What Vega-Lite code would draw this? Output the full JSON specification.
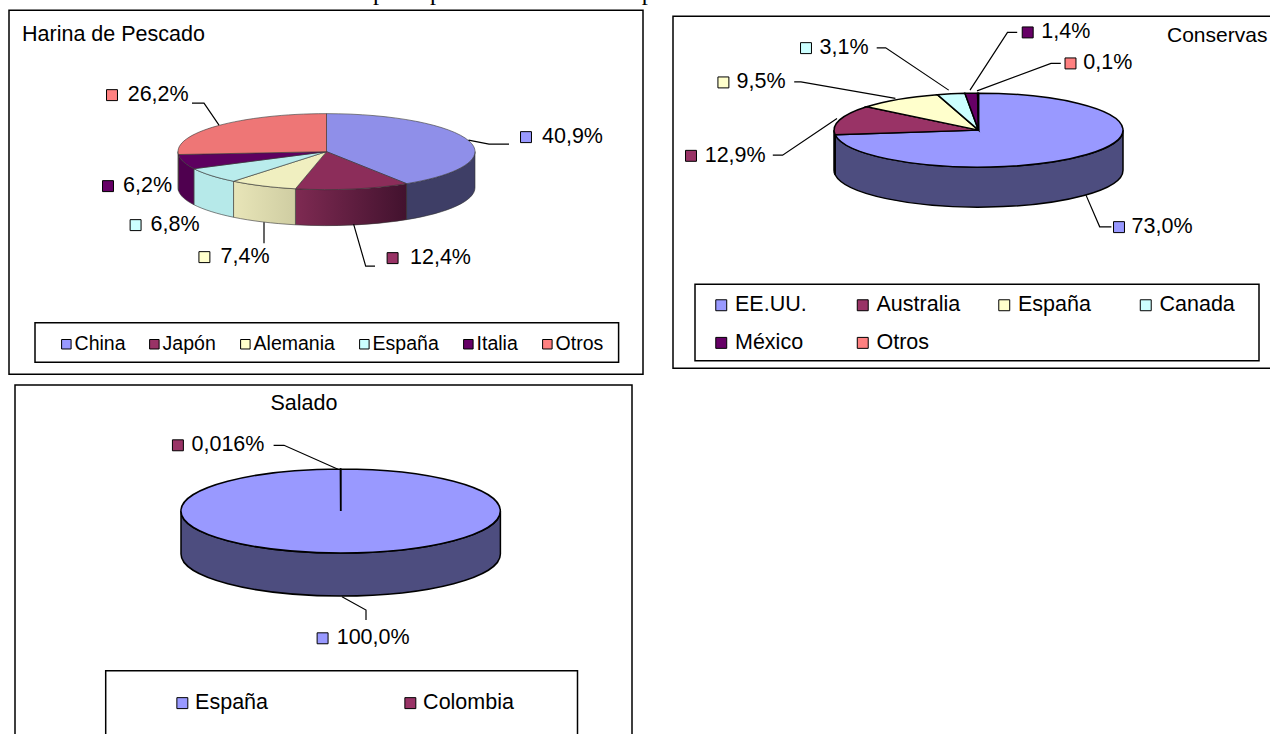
{"$schema":"https://vega.github.io/schema/vega-lite/v6.json","background":"white","padding":{"left":8,"top":-21,"right":0,"bottom":0},"config":{"axis":{"disable":true},"font":"Liberation Sans"},"title":{"text":"Gráfico Nº 4: Los tres principales mercados de importación de Venezuela en 1996","font":"Liberation Serif","fontSize":24.5,"fontWeight":"normal","color":"black","anchor":"start","frame":"group","dx":142,"offset":-20,"baseline":"bottom"},"spacing":9,"resolve":{"scale":{"color":"independent","fill":"independent"},"legend":{"color":"independent"}},"vconcat":[{"spacing":28,"center":true,"resolve":{"scale":{"color":"independent","fill":"independent"},"legend":{"color":"independent"}},"hconcat":[
{"width":634,"height":364,"view":{"stroke":"black","strokeWidth":1.5},"data":{"values":[{"cat":"China","value":40.9,"label":"40,9%"},{"cat":"Japón","value":12.4,"label":"12,4%"},{"cat":"Alemania","value":7.4,"label":"7,4%"},{"cat":"España","value":6.8,"label":"6,8%"},{"cat":"Italia","value":6.2,"label":"6,2%"},{"cat":"Otros","value":26.2,"label":"26,2%"}]},
"transform":[{"stack":"value","groupby":[],"as":["v0","v1"]},{"joinaggregate":[{"op":"sum","field":"value","as":"total"}]},{"calculate":"2*PI*datum.v0/datum.total","as":"a0"},{"calculate":"2*PI*datum.v1/datum.total","as":"a1"},{"calculate":"clamp(datum.a0,PI/2,3*PI/2)","as":"b0"},{"calculate":"clamp(datum.a1,PI/2,3*PI/2)","as":"b1"},
{"calculate":"'M317.5,141.5L'+format(317.5+148.5*sin(datum.a0),'.2f')+','+format(141.5-38*cos(datum.a0),'.2f')+'A148.5,38 0 '+(datum.a1-datum.a0>PI?1:0)+' 1 '+format(317.5+148.5*sin(datum.a1),'.2f')+','+format(141.5-38*cos(datum.a1),'.2f')+'Z'","as":"topPath"},
{"calculate":"'M'+format(317.5+148.5*sin(datum.b0),'.2f')+','+format(141.5-38*cos(datum.b0),'.2f')+'A148.5,38 0 0 1 '+format(317.5+148.5*sin(datum.b1),'.2f')+','+format(141.5-38*cos(datum.b1),'.2f')+'L'+format(317.5+148.5*sin(datum.b1),'.2f')+','+format(177.5-38*cos(datum.b1),'.2f')+'A148.5,38 0 0 0 '+format(317.5+148.5*sin(datum.b0),'.2f')+','+format(177.5-38*cos(datum.b0),'.2f')+'Z'","as":"rimPath"},
{"calculate":"datum.cat+' rim'","as":"rimKey"},
{"calculate":"{'China':517,'Japón':383.6,'Alemania':195.4,'España':126.6,'Italia':99,'Otros':103}[datum.cat]","as":"kx"},
{"calculate":"{'China':533,'Japón':401,'Alemania':211.5,'España':141.5,'Italia':114,'Otros':118.7}[datum.cat]","as":"tx"},
{"calculate":"{'China':127,'Japón':248,'Alemania':247,'España':215,'Italia':176,'Otros':85}[datum.cat]","as":"ly"},
{"calculate":"{'China':'M459.5,130L480,134L500,134','Japón':'M344.6,214L356.7,256L366,256','Alemania':'M255,212L255,233','España':'','Italia':'','Otros':'M210,115L195,93L183,93'}[datum.cat]","as":"leader"}],
"layer":[
{"transform":[{"filter":"datum.b1>datum.b0 && datum.cat!='Japón' && datum.cat!='Alemania'"}],"mark":{"type":"point","filled":true,"opacity":1,"stroke":"#333333","strokeWidth":0.6},"encoding":{"x":{"datum":0,"type":"quantitative","scale":{"domain":[0,634],"nice":false,"zero":false}},"y":{"datum":0,"type":"quantitative","scale":{"domain":[364,0],"nice":false,"zero":false}},"size":{"value":4},"shape":{"field":"rimPath","type":"nominal","scale":null},"fill":{"field":"rimKey","type":"nominal","legend":null,"scale":{"domain":["China rim","España rim","Italia rim","Otros rim","China","Japón","Alemania","España","Italia","Otros"],"range":["#3e3e66","#b6e9e9","#4f004f","#c46060","#8f8fe9","#8c2d5a","#f0efc0","#b9ecec","#5e0060","#ee7676"]}}}},
{"transform":[{"filter":"datum.cat=='Japón'"}],"mark":{"type":"point","filled":true,"opacity":1,"stroke":"#333333","strokeWidth":0.6,"fill":{"gradient":"linear","x1":0,"y1":0,"x2":1,"y2":0,"stops":[{"offset":0,"color":"#7e2a52"},{"offset":1,"color":"#42122e"}]}},"encoding":{"x":{"datum":0,"type":"quantitative","scale":{"domain":[0,634],"nice":false,"zero":false}},"y":{"datum":0,"type":"quantitative","scale":{"domain":[364,0],"nice":false,"zero":false}},"size":{"value":4},"shape":{"field":"rimPath","type":"nominal","scale":null}}},
{"transform":[{"filter":"datum.cat=='Alemania'"}],"mark":{"type":"point","filled":true,"opacity":1,"stroke":"#333333","strokeWidth":0.6,"fill":{"gradient":"linear","x1":0,"y1":0,"x2":1,"y2":0,"stops":[{"offset":0,"color":"#e8e5b8"},{"offset":1,"color":"#cfcda2"}]}},"encoding":{"x":{"datum":0,"type":"quantitative","scale":{"domain":[0,634],"nice":false,"zero":false}},"y":{"datum":0,"type":"quantitative","scale":{"domain":[364,0],"nice":false,"zero":false}},"size":{"value":4},"shape":{"field":"rimPath","type":"nominal","scale":null}}},
{"mark":{"type":"point","filled":true,"opacity":1,"stroke":"#333333","strokeWidth":0.6},"encoding":{"x":{"datum":0,"type":"quantitative","scale":{"domain":[0,634],"nice":false,"zero":false}},"y":{"datum":0,"type":"quantitative","scale":{"domain":[364,0],"nice":false,"zero":false}},"size":{"value":4},"shape":{"field":"topPath","type":"nominal","scale":null},"fill":{"field":"cat","type":"nominal","legend":null}}},
{"transform":[{"filter":"datum.leader!=''"}],"mark":{"type":"point","filled":false,"opacity":1,"stroke":"black","strokeWidth":1.2},"encoding":{"x":{"datum":0,"type":"quantitative","scale":{"domain":[0,634],"nice":false,"zero":false}},"y":{"datum":0,"type":"quantitative","scale":{"domain":[364,0],"nice":false,"zero":false}},"size":{"value":4},"shape":{"field":"leader","type":"nominal","scale":null}}},
{"mark":{"type":"square","opacity":1,"size":120,"stroke":"black","strokeWidth":1},"encoding":{"x":{"field":"kx","type":"quantitative","scale":{"domain":[0,634],"nice":false,"zero":false}},"y":{"field":"ly","type":"quantitative","scale":{"domain":[364,0],"nice":false,"zero":false}},"color":{"field":"cat","type":"nominal","scale":{"domain":["China","Japón","Alemania","España","Italia","Otros"],"range":["#9999ff","#993366","#ffffcc","#ccffff","#660066","#ff8080"]},"legend":{"orient":"none","legendX":47.6,"legendY":324,"title":null,"direction":"horizontal","columns":6,"symbolType":"square","symbolSize":90,"symbolStrokeColor":"black","symbolStrokeWidth":1,"symbolOpacity":1,"labelFont":"Liberation Sans","labelFontSize":19.5,"labelColor":"black","labelOffset":-1.5,"columnPadding":19,"gridAlign":"each","padding":0,"labelLimit":300}}}},
{"mark":{"type":"text","align":"left","baseline":"middle","font":"Liberation Sans","fontSize":21.5,"color":"black"},"encoding":{"x":{"field":"tx","type":"quantitative","scale":{"domain":[0,634],"nice":false,"zero":false}},"y":{"field":"ly","type":"quantitative","scale":{"domain":[364,0],"nice":false,"zero":false}},"text":{"field":"label"}}},
{"data":{"values":[{"t":"Harina de Pescado"}]},"mark":{"type":"text","align":"left","baseline":"middle","font":"Liberation Sans","fontSize":21.5,"color":"black"},"encoding":{"x":{"datum":13,"type":"quantitative","scale":{"domain":[0,634],"nice":false,"zero":false}},"y":{"datum":25,"type":"quantitative","scale":{"domain":[364,0],"nice":false,"zero":false}},"text":{"field":"t"}}},
{"data":{"values":[{"t":"legend"}]},"mark":{"type":"rect","fillOpacity":0,"stroke":"black","strokeWidth":1.5},"encoding":{"x":{"datum":26,"type":"quantitative","scale":{"domain":[0,634],"nice":false,"zero":false}},"x2":{"datum":609.6},"y":{"datum":312.7,"type":"quantitative","scale":{"domain":[364,0],"nice":false,"zero":false}},"y2":{"datum":352}}}
]},
{"width":599,"height":352,"view":{"stroke":"black","strokeWidth":1.5},"data":{"values":[{"cat":"EE.UU.","value":73.0,"label":"73,0%"},{"cat":"Australia","value":12.9,"label":"12,9%"},{"cat":"España","value":9.5,"label":"9,5%"},{"cat":"Canada","value":3.1,"label":"3,1%"},{"cat":"México","value":1.4,"label":"1,4%"},{"cat":"Otros","value":0.1,"label":"0,1%"}]},
"transform":[{"stack":"value","groupby":[],"as":["v0","v1"]},{"joinaggregate":[{"op":"sum","field":"value","as":"total"}]},{"calculate":"2*PI*datum.v0/datum.total","as":"a0"},{"calculate":"2*PI*datum.v1/datum.total","as":"a1"},{"calculate":"clamp(datum.a0,PI/2,3*PI/2)","as":"b0"},{"calculate":"clamp(datum.a1,PI/2,3*PI/2)","as":"b1"},
{"calculate":"'M305.5,114L'+format(305.5+144.5*sin(datum.a0),'.2f')+','+format(114-37*cos(datum.a0),'.2f')+'A144.5,37 0 '+(datum.a1-datum.a0>PI?1:0)+' 1 '+format(305.5+144.5*sin(datum.a1),'.2f')+','+format(114-37*cos(datum.a1),'.2f')+'Z'","as":"topPath"},
{"calculate":"'M'+format(305.5+144.5*sin(datum.b0),'.2f')+','+format(114-37*cos(datum.b0),'.2f')+'A144.5,37 0 0 1 '+format(305.5+144.5*sin(datum.b1),'.2f')+','+format(114-37*cos(datum.b1),'.2f')+'L'+format(305.5+144.5*sin(datum.b1),'.2f')+','+format(154-37*cos(datum.b1),'.2f')+'A144.5,37 0 0 0 '+format(305.5+144.5*sin(datum.b0),'.2f')+','+format(154-37*cos(datum.b0),'.2f')+'Z'","as":"rimPath"},
{"calculate":"datum.cat+' rim'","as":"rimKey"},
{"calculate":"{'EE.UU.':446,'Australia':18,'España':50.4,'Canada':133,'México':354.7,'Otros':397.5}[datum.cat]","as":"kx"},
{"calculate":"{'EE.UU.':458.6,'Australia':31.7,'España':63.6,'Canada':146.5,'México':368.3,'Otros':410.3}[datum.cat]","as":"tx"},
{"calculate":"{'EE.UU.':211,'Australia':139.7,'España':66.3,'Canada':32,'México':16.3,'Otros':47.3}[datum.cat]","as":"ly"},
{"calculate":"{'EE.UU.':'M413,179L426.7,210.7L438.4,210.7','Australia':'M164,102.3L109.6,139L99.8,139','España':'M222.4,82.3L127.9,65.7L121.2,65.7','Canada':'M275.7,74L212.7,31.7L203.7,31.7','México':'M297,74L334.5,16.3L344.2,16.3','Otros':'M304,74.7L378,47.3L387.8,47.3'}[datum.cat]","as":"leader"}],
"layer":[
{"transform":[{"filter":"datum.b1>datum.b0"}],"mark":{"type":"point","filled":true,"opacity":1,"stroke":"black","strokeWidth":1.5},"encoding":{"x":{"datum":0,"type":"quantitative","scale":{"domain":[0,599],"nice":false,"zero":false}},"y":{"datum":0,"type":"quantitative","scale":{"domain":[352,0],"nice":false,"zero":false}},"size":{"value":4},"shape":{"field":"rimPath","type":"nominal","scale":null},"fill":{"field":"rimKey","type":"nominal","legend":null,"scale":{"domain":["EE.UU. rim","Australia rim","España rim","Canada rim","México rim","Otros rim","EE.UU.","Australia","España","Canada","México","Otros"],"range":["#4d4d7f","#4d1a33","#808066","#668080","#330033","#804040","#9999ff","#993366","#ffffcc","#ccffff","#660066","#ff8080"]}}}},
{"mark":{"type":"point","filled":true,"opacity":1,"stroke":"black","strokeWidth":1.5},"encoding":{"x":{"datum":0,"type":"quantitative","scale":{"domain":[0,599],"nice":false,"zero":false}},"y":{"datum":0,"type":"quantitative","scale":{"domain":[352,0],"nice":false,"zero":false}},"size":{"value":4},"shape":{"field":"topPath","type":"nominal","scale":null},"fill":{"field":"cat","type":"nominal","legend":null}}},
{"mark":{"type":"point","filled":false,"opacity":1,"stroke":"black","strokeWidth":1.2},"encoding":{"x":{"datum":0,"type":"quantitative","scale":{"domain":[0,599],"nice":false,"zero":false}},"y":{"datum":0,"type":"quantitative","scale":{"domain":[352,0],"nice":false,"zero":false}},"size":{"value":4},"shape":{"field":"leader","type":"nominal","scale":null}}},
{"mark":{"type":"square","opacity":1,"size":120,"stroke":"black","strokeWidth":1},"encoding":{"x":{"field":"kx","type":"quantitative","scale":{"domain":[0,599],"nice":false,"zero":false}},"y":{"field":"ly","type":"quantitative","scale":{"domain":[352,0],"nice":false,"zero":false}},"color":{"field":"cat","type":"nominal","scale":{"domain":["EE.UU.","Australia","España","Canada","México","Otros"],"range":["#9999ff","#993366","#ffffcc","#ccffff","#660066","#ff8080"]},"legend":{"orient":"none","legendX":37.5,"legendY":278,"title":null,"direction":"horizontal","columns":4,"symbolType":"square","symbolSize":120,"symbolStrokeColor":"black","symbolStrokeWidth":1,"symbolOpacity":1,"labelFont":"Liberation Sans","labelFontSize":21.5,"labelColor":"black","labelOffset":3,"columnPadding":32.5,"rowPadding":15,"gridAlign":"all","padding":0,"labelLimit":300}}}},
{"mark":{"type":"text","align":"left","baseline":"middle","font":"Liberation Sans","fontSize":21.5,"color":"black"},"encoding":{"x":{"field":"tx","type":"quantitative","scale":{"domain":[0,599],"nice":false,"zero":false}},"y":{"field":"ly","type":"quantitative","scale":{"domain":[352,0],"nice":false,"zero":false}},"text":{"field":"label"}}},
{"data":{"values":[{"t":"Conservas"}]},"mark":{"type":"text","align":"left","baseline":"middle","font":"Liberation Sans","fontSize":21,"color":"black"},"encoding":{"x":{"datum":494,"type":"quantitative","scale":{"domain":[0,599],"nice":false,"zero":false}},"y":{"datum":20,"type":"quantitative","scale":{"domain":[352,0],"nice":false,"zero":false}},"text":{"field":"t"}}},
{"data":{"values":[{"t":"legend"}]},"mark":{"type":"rect","fillOpacity":0,"stroke":"black","strokeWidth":1.5},"encoding":{"x":{"datum":22,"type":"quantitative","scale":{"domain":[0,599],"nice":false,"zero":false}},"x2":{"datum":586},"y":{"datum":268,"type":"quantitative","scale":{"domain":[352,0],"nice":false,"zero":false}},"y2":{"datum":344.7}}}
]}
]},
{"spacing":0,"resolve":{"scale":{"color":"independent","fill":"independent"},"legend":{"color":"independent"}},"hconcat":[
{"width":5,"height":1,"view":{"stroke":null},"data":{"values":[{"t":"gap"}]},"mark":{"type":"rule","opacity":0},"encoding":{}},
{"width":617,"height":351,"view":{"stroke":"black","strokeWidth":1.5},"data":{"values":[{"cat":"España","value":99.984,"label":"100,0%"},{"cat":"Colombia","value":0.016,"label":"0,016%"}]},
"transform":[{"stack":"value","groupby":[],"as":["v0","v1"]},{"joinaggregate":[{"op":"sum","field":"value","as":"total"}]},{"calculate":"2*PI*datum.v0/datum.total","as":"a0"},{"calculate":"2*PI*datum.v1/datum.total","as":"a1"},{"calculate":"clamp(datum.a0,PI/2,3*PI/2)","as":"b0"},{"calculate":"clamp(datum.a1,PI/2,3*PI/2)","as":"b1"},
{"calculate":"'M325.7,126L'+format(325.7+159.7*sin(datum.a0),'.2f')+','+format(126-42*cos(datum.a0),'.2f')+'A159.7,42 0 '+(datum.a1-datum.a0>PI?1:0)+' 1 '+format(325.7+159.7*sin(datum.a1),'.2f')+','+format(126-42*cos(datum.a1),'.2f')+'Z'","as":"topPath"},
{"calculate":"'M'+format(325.7+159.7*sin(datum.b0),'.2f')+','+format(126-42*cos(datum.b0),'.2f')+'A159.7,42 0 0 1 '+format(325.7+159.7*sin(datum.b1),'.2f')+','+format(126-42*cos(datum.b1),'.2f')+'L'+format(325.7+159.7*sin(datum.b1),'.2f')+','+format(169-42*cos(datum.b1),'.2f')+'A159.7,42 0 0 0 '+format(325.7+159.7*sin(datum.b0),'.2f')+','+format(169-42*cos(datum.b0),'.2f')+'Z'","as":"rimPath"},
{"calculate":"datum.cat+' rim'","as":"rimKey"},
{"calculate":"{'España':307.6,'Colombia':162.9}[datum.cat]","as":"kx"},
{"calculate":"{'España':321.7,'Colombia':176.5}[datum.cat]","as":"tx"},
{"calculate":"{'España':253.3,'Colombia':60.3}[datum.cat]","as":"ly"},
{"calculate":"{'España':'M327,211.7L351,225L351,235','Colombia':'M323,84.3L269,60.3L258.6,60.3'}[datum.cat]","as":"leader"}],
"layer":[
{"transform":[{"filter":"datum.b1>datum.b0"}],"mark":{"type":"point","filled":true,"opacity":1,"stroke":"black","strokeWidth":1.5},"encoding":{"x":{"datum":0,"type":"quantitative","scale":{"domain":[0,617],"nice":false,"zero":false}},"y":{"datum":0,"type":"quantitative","scale":{"domain":[351,0],"nice":false,"zero":false}},"size":{"value":4},"shape":{"field":"rimPath","type":"nominal","scale":null},"fill":{"field":"rimKey","type":"nominal","legend":null,"scale":{"domain":["España rim","Colombia rim","España","Colombia"],"range":["#4d4d7f","#4d1a33","#9999ff","#993366"]}}}},
{"mark":{"type":"point","filled":true,"opacity":1,"stroke":"black","strokeWidth":1.5},"encoding":{"x":{"datum":0,"type":"quantitative","scale":{"domain":[0,617],"nice":false,"zero":false}},"y":{"datum":0,"type":"quantitative","scale":{"domain":[351,0],"nice":false,"zero":false}},"size":{"value":4},"shape":{"field":"topPath","type":"nominal","scale":null},"fill":{"field":"cat","type":"nominal","legend":null}}},
{"mark":{"type":"point","filled":false,"opacity":1,"stroke":"black","strokeWidth":1.2},"encoding":{"x":{"datum":0,"type":"quantitative","scale":{"domain":[0,617],"nice":false,"zero":false}},"y":{"datum":0,"type":"quantitative","scale":{"domain":[351,0],"nice":false,"zero":false}},"size":{"value":4},"shape":{"field":"leader","type":"nominal","scale":null}}},
{"mark":{"type":"square","opacity":1,"size":120,"stroke":"black","strokeWidth":1},"encoding":{"x":{"field":"kx","type":"quantitative","scale":{"domain":[0,617],"nice":false,"zero":false}},"y":{"field":"ly","type":"quantitative","scale":{"domain":[351,0],"nice":false,"zero":false}},"color":{"field":"cat","type":"nominal","scale":{"domain":["España","Colombia"],"range":["#9999ff","#993366"]},"legend":{"orient":"none","legendX":156.6,"legendY":307,"title":null,"direction":"horizontal","columns":2,"symbolType":"square","symbolSize":120,"symbolStrokeColor":"black","symbolStrokeWidth":1,"symbolOpacity":1,"labelFont":"Liberation Sans","labelFontSize":21.5,"labelColor":"black","labelOffset":2,"columnPadding":113,"gridAlign":"all","padding":0,"labelLimit":300}}}},
{"mark":{"type":"text","align":"left","baseline":"middle","font":"Liberation Sans","fontSize":21.5,"color":"black"},"encoding":{"x":{"field":"tx","type":"quantitative","scale":{"domain":[0,617],"nice":false,"zero":false}},"y":{"field":"ly","type":"quantitative","scale":{"domain":[351,0],"nice":false,"zero":false}},"text":{"field":"label"}}},
{"data":{"values":[{"t":"Salado"}]},"mark":{"type":"text","align":"center","baseline":"middle","font":"Liberation Sans","fontSize":21.5,"color":"black"},"encoding":{"x":{"datum":289,"type":"quantitative","scale":{"domain":[0,617],"nice":false,"zero":false}},"y":{"datum":19,"type":"quantitative","scale":{"domain":[351,0],"nice":false,"zero":false}},"text":{"field":"t"}}},
{"data":{"values":[{"t":"legend"}]},"mark":{"type":"rect","fillOpacity":0,"stroke":"black","strokeWidth":1.5},"encoding":{"x":{"datum":90.7,"type":"quantitative","scale":{"domain":[0,617],"nice":false,"zero":false}},"x2":{"datum":562.5},"y":{"datum":285.7,"type":"quantitative","scale":{"domain":[351,0],"nice":false,"zero":false}},"y2":{"datum":351}}}
]}
]}
]}
